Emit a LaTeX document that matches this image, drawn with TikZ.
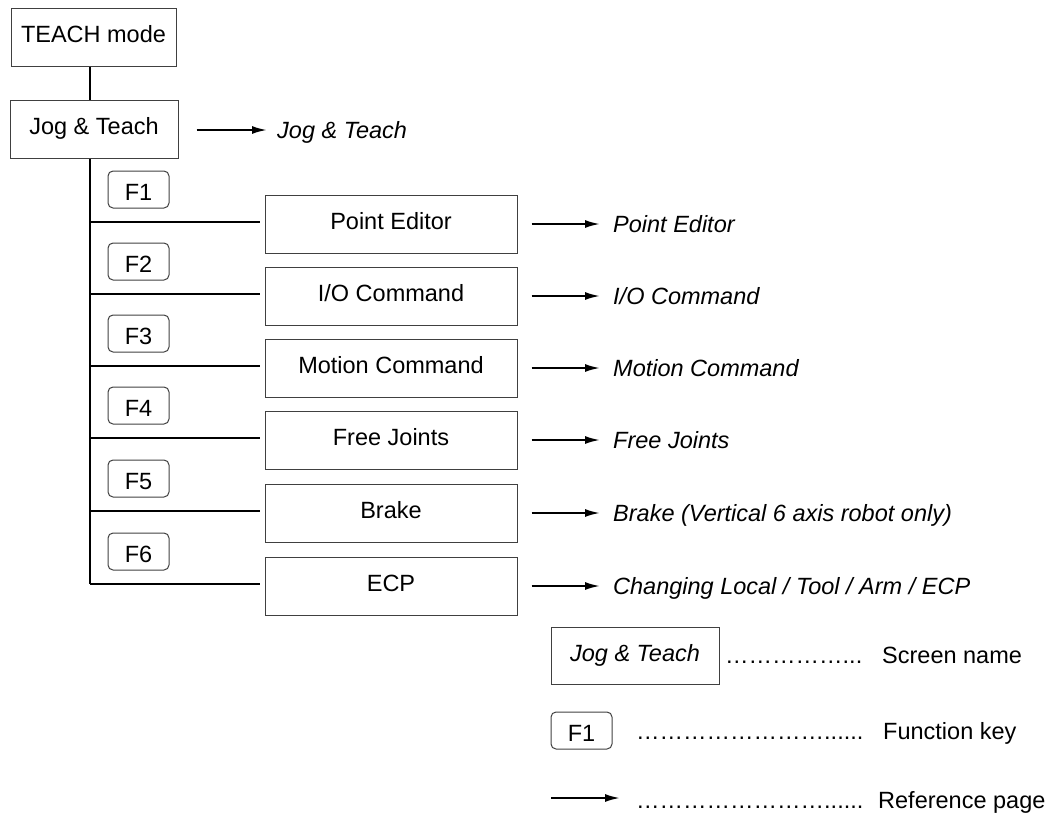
\documentclass[tikz,border=0pt]{standalone}
\usepackage{fontspec}
\setmainfont{Liberation Sans}
\usetikzlibrary{arrows.meta}
\begin{document}
\begin{tikzpicture}[x=1pt,y=-1pt,
  every node/.style={font=\fontsize{23.5}{28}\selectfont},
  screen/.style={draw=black!75, line width=1pt, inner sep=0pt, minimum height=58pt,
                 text height=16.8pt, text depth=5pt},
  fkey/.style={draw=black!75, line width=1pt, rounded corners=5pt, minimum width=61pt,
               minimum height=37pt, inner sep=0pt, text height=21.8pt, text depth=0pt},
  tree/.style={line width=2pt},
  refarrow/.style={line width=2pt, -{Latex[length=15pt,width=8pt]}},
  lbl/.style={anchor=west, inner sep=0pt, text height=16.8pt, text depth=0pt}]

\useasboundingbox (0,0) rectangle (1061,814);

% top of tree
\node[screen, minimum width=165pt] (teach) at (93.5,37) {TEACH mode};
\node[screen, minimum width=168pt] (jt) at (94,129) {Jog \& Teach};
\coordinate (tx) at (90,0);
\draw[tree] (teach.south -| tx) -- (jt.north -| tx);
\node[lbl] (r0) at (277,130) {\itshape Jog \& Teach};
\draw[refarrow] ([xshift=18pt]jt.east |- r0.west) -- ([xshift=-10pt]r0.west);

% branches
\foreach \i/\boxtop/\name/\rtext in {1/195/{Point Editor}/{Point Editor},
                              2/267/{I/O Command}/{I/O Command},
                              3/339/{Motion Command}/{Motion Command},
                              4/411/{Free Joints}/{Free Joints},
                              5/484/{Brake}/{Brake (Vertical 6 axis robot only)},
                              6/557/{ECP}/{Changing Local / Tool / Arm / ECP}}{
  \node[screen, minimum width=252pt] (sc\i) at (391,\boxtop+29) {\name};
  \node[fkey] (fk\i) at (138.5,\boxtop-5.5) {F\i};
  \coordinate (br\i) at (90,\boxtop+27);
  \draw[tree] (br\i) -- ([xshift=-5pt]sc\i.west |- br\i);
  \node[lbl] (r\i) at (613,\boxtop+29) {\itshape \rtext};
  \draw[refarrow] ([xshift=14pt]sc\i.east) -- ([xshift=-13pt]r\i.west);
}
\draw[tree] (jt.south -| tx) -- (br6);

% legend
\node[screen, minimum width=168pt, minimum height=57pt] (lscreen) at (635,655.5) {\itshape Jog \& Teach};
\node[lbl] (ldots1) at (725,655) {……………...};
\node[lbl] (lname) at (882,655) {Screen name};

\node[fkey] (lkey) at (581.5,730.5) {F1};
\node[lbl] (ldots2) at (636,731) {……………………......};
\node[lbl] (lkeytext) at (883,731) {Function key};

\coordinate (la) at (551,798);
\node[lbl] (ldots3) at (636,800) {……………………......};
\node[lbl] (lref) at (878,800) {Reference page};
\draw[refarrow] (la) -- ([xshift=-16pt]ldots3.west |- la);
\end{tikzpicture}
\end{document}
